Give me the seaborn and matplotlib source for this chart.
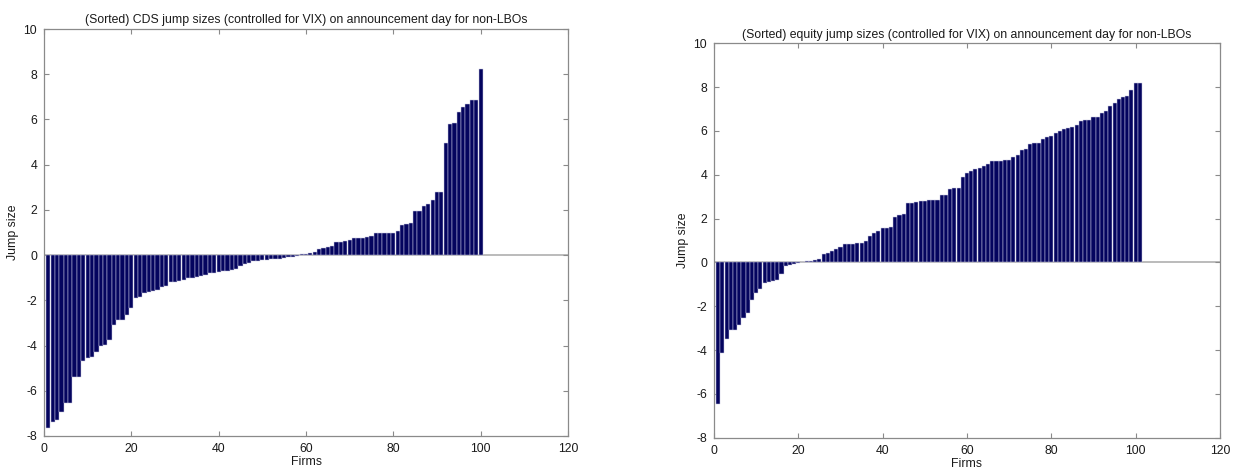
import matplotlib
matplotlib.use("Agg")
import matplotlib.pyplot as plt
import seaborn as sns
import numpy as np

# ---------------- data ----------------
cds_firms = list(range(1, 101))
cds_jumps = [
    -7.65, -7.40, -7.30, -6.95, -6.55, -6.55, -5.40, -5.40, -4.70, -4.57,
    -4.50, -4.28, -4.02, -3.98, -3.76, -3.10, -2.88, -2.85, -2.66, -2.36,
    -1.89, -1.84, -1.66, -1.62, -1.58, -1.55, -1.40, -1.37, -1.18, -1.18,
    -1.13, -1.10, -1.03, -1.00, -0.99, -0.91, -0.88, -0.80, -0.78, -0.73,
    -0.70, -0.69, -0.66, -0.63, -0.48, -0.40, -0.34, -0.28, -0.25, -0.22,
    -0.22, -0.19, -0.19, -0.15, -0.12, -0.10, -0.07, -0.03, 0.03, 0.06,
    0.10, 0.15, 0.25, 0.33, 0.37, 0.41, 0.56, 0.59, 0.64, 0.67,
    0.74, 0.74, 0.77, 0.81, 0.84, 0.96, 0.99, 0.99, 0.99, 0.99,
    1.07, 1.33, 1.38, 1.41, 1.93, 1.93, 2.15, 2.25, 2.44, 2.81,
    2.81, 4.96, 5.78, 5.85, 6.33, 6.55, 6.67, 6.84, 6.84, 8.25,
]

eq_firms = list(range(1, 102))
eq_jumps = [
    -6.47, -4.15, -3.48, -3.09, -3.09, -2.86, -2.53, -2.33, -1.70, -1.39,
    -1.21, -0.94, -0.91, -0.86, -0.82, -0.52, -0.18, -0.12, -0.06, -0.03,
    0.02, 0.05, 0.08, 0.12, 0.15, 0.38, 0.45, 0.50, 0.60, 0.70,
    0.82, 0.85, 0.85, 0.87, 0.90, 0.98, 1.21, 1.35, 1.44, 1.55,
    1.59, 1.62, 2.08, 2.15, 2.20, 2.71, 2.73, 2.76, 2.79, 2.80,
    2.83, 2.83, 2.86, 3.06, 3.06, 3.36, 3.39, 3.39, 3.89, 4.08,
    4.15, 4.27, 4.32, 4.38, 4.50, 4.61, 4.65, 4.65, 4.68, 4.68,
    4.80, 4.88, 5.11, 5.18, 5.41, 5.44, 5.44, 5.64, 5.71, 5.79,
    5.89, 6.02, 6.09, 6.14, 6.17, 6.27, 6.47, 6.50, 6.52, 6.62,
    6.65, 6.80, 6.89, 7.12, 7.27, 7.48, 7.53, 7.61, 7.86, 8.17,
    8.17,
]

titles = [
    "(Sorted) CDS jump sizes (controlled for VIX) on announcement day for non-LBOs",
    "(Sorted) equity jump sizes (controlled for VIX) on announcement day for non-LBOs",
]
x_label = "Firms"
y_label = "Jump size"
x_ticks = [0, 20, 40, 60, 80, 100, 120]
y_ticks = [-8, -6, -4, -2, 0, 2, 4, 6, 8, 10]

# ---------------- style ----------------
sns.set_theme(style="white")
plt.rcParams["font.family"] = ["Liberation Sans", "DejaVu Sans"]

BAR = "#04045e"
SEP = "#c9c9e2"
SPINE = "#8a8a8a"
BASE = "#a8a8a8"
TXT = "#1a1a1a"
FS = 8.8

fig = plt.figure(figsize=(12.34, 4.68), dpi=100)
ax1 = fig.add_axes([44 / 1234, 1 - 436 / 468, 524 / 1234, (436 - 29) / 468])
ax2 = fig.add_axes([714 / 1234, 1 - 437.7 / 468, 506 / 1234, (437.7 - 43.3) / 468])

panels = [(ax1, cds_firms, cds_jumps, titles[0]), (ax2, eq_firms, eq_jumps, titles[1])]
for ax, xs, ys, title in panels:
    sns.barplot(x=xs, y=ys, ax=ax, native_scale=True, color=BAR, saturation=1,
                width=0.97, edgecolor=SEP, linewidth=0.35, errorbar=None)
    ax.axhline(0, color=BASE, lw=1.1, zorder=0.5)
    ax.set_xlim(0, 120)
    ax.set_ylim(-8, 10)
    ax.set_xticks(x_ticks)
    ax.set_yticks(y_ticks)
    ax.set_xticklabels([str(t) for t in x_ticks])
    ax.set_yticklabels([str(t) for t in y_ticks])
    ax.tick_params(direction="in", length=3.5, width=0.8, color=SPINE,
                   labelsize=FS, labelcolor=TXT,
                   top=True, right=True, bottom=True, left=True)
    ax.tick_params(axis="y", pad=5)
    ax.tick_params(axis="x", pad=5)
    for s in ax.spines.values():
        s.set_visible(True)
        s.set_color(SPINE)
        s.set_linewidth(0.9)
    ax.set_title(title, fontsize=FS, color=TXT, pad=4)
    ax.set_xlabel(x_label, fontsize=FS, color=TXT, labelpad=1)
    ax.set_ylabel(y_label, fontsize=FS, color=TXT, labelpad=3)
    ax.grid(False)
    ax.set_facecolor("white")

fig.savefig("out.png", dpi=100, facecolor="white")
